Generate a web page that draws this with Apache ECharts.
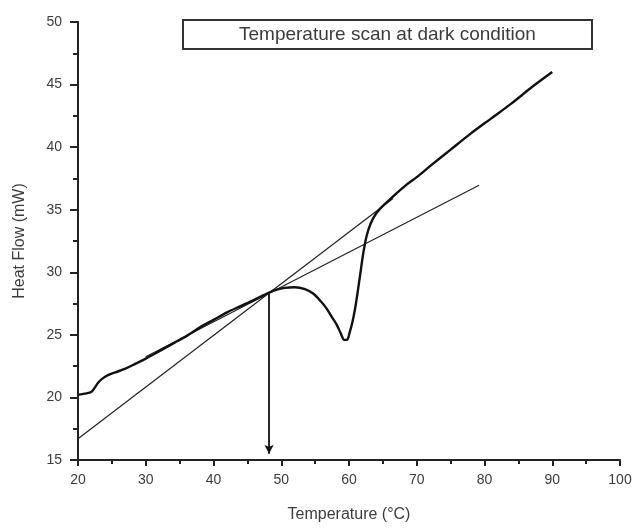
<!DOCTYPE html>
<html>
<head>
<meta charset="utf-8">
<script src="https://cdn.jsdelivr.net/npm/echarts@6/dist/echarts.min.js"></script>
<style>
  html, body { margin: 0; padding: 0; background: #fff; }
  #chart { width: 635px; height: 528px; }
</style>
</head>
<body>
<div id="chart"></div>
<script>
// DSC scan
var scanTemp = [20, 21, 22, 22.5, 23, 23.6, 24.5, 25.5, 27, 28.5, 30, 32, 34, 36, 38, 40, 42, 44, 46, 47.5,
  49, 50.5, 52, 53.5, 54.7, 55.8, 56.7, 57.5, 58.2, 58.8, 59.3, 59.7, 60.1, 60.5, 60.9, 61.3, 61.7,
  62.1, 62.6, 63.2, 64, 65, 66, 67, 68.5, 70, 72, 75, 78, 81, 84, 87, 90];
var scanHeat = [20.2, 20.3, 20.45, 20.8, 21.2, 21.5, 21.8, 22.0, 22.3, 22.7, 23.1, 23.7, 24.3, 24.9, 25.6, 26.2, 26.8, 27.3, 27.8, 28.2,
  28.55, 28.75, 28.8, 28.65, 28.3, 27.7, 27.1, 26.4, 25.8, 25.1, 24.6, 24.6, 25.2, 26.0, 27.1, 28.5, 30.0,
  31.5, 32.9, 33.9, 34.7, 35.3, 35.8, 36.3, 37.0, 37.6, 38.5, 39.8, 41.1, 42.3, 43.5, 44.8, 46.0];

// tangent lines (start / end points)
var steepTemp = [20, 66.5];
var steepHeat = [16.7, 35.9];
var shallowTemp = [30, 79.2];
var shallowHeat = [23.25, 36.95];

// onset arrow
var onsetTemp = 48.2;
var onsetHeat = [28.3, 15.5];

var xTicks = { min: 20, max: 100, step: 10 };
var yTicks = { min: 15, max: 50, step: 5 };

function pairs(xs, ys) {
  return xs.map(function (x, i) { return [x, ys[i]]; });
}

var chartDom = document.getElementById('chart');
var myChart = echarts.init(chartDom);
var option;
var textColor = '#3c3c3c';

option = {
  animation: false,
  backgroundColor: '#fff',
  title: {
    text: 'Temperature scan at dark condition',
    left: 183,
    top: 20,
    padding: [5, 56],
    borderWidth: 2,
    borderColor: '#333',
    textStyle: {
      fontFamily: 'Liberation Sans',
      fontWeight: 'normal',
      fontSize: 19,
      color: textColor
    }
  },
  grid: { left: 78, right: 15, top: 22, bottom: 67 },
  xAxis: {
    type: 'value',
    min: xTicks.min,
    max: xTicks.max,
    interval: xTicks.step,
    name: 'Temperature (°C)',
    nameLocation: 'middle',
    nameGap: 47,
    nameTextStyle: { fontFamily: 'Liberation Sans', fontSize: 16, color: textColor },
    axisLine: { lineStyle: { color: '#222', width: 2 } },
    axisTick: { length: 6, lineStyle: { color: '#222', width: 2 } },
    minorTick: { show: true, splitNumber: 2, length: 4, lineStyle: { color: '#222', width: 2 } },
    axisLabel: { margin: 13, fontFamily: 'Liberation Sans', fontSize: 14, color: textColor },
    splitLine: { show: false }
  },
  yAxis: {
    type: 'value',
    min: yTicks.min,
    max: yTicks.max,
    interval: yTicks.step,
    name: 'Heat Flow (mW)',
    nameLocation: 'middle',
    nameGap: 50,
    nameTextStyle: { fontFamily: 'Liberation Sans', fontSize: 16, color: textColor },
    axisLine: { show: true, lineStyle: { color: '#222', width: 2 } },
    axisTick: { show: true, length: 8, lineStyle: { color: '#222', width: 2 } },
    minorTick: { show: true, splitNumber: 2, length: 5, lineStyle: { color: '#222', width: 2 } },
    axisLabel: { margin: 16, fontFamily: 'Liberation Sans', fontSize: 14, color: textColor },
    splitLine: { show: false }
  },
  series: [
    {
      name: 'steep tangent',
      type: 'line',
      data: pairs(steepTemp, steepHeat),
      showSymbol: false,
      lineStyle: { color: '#222', width: 1.2 }
    },
    {
      name: 'shallow tangent',
      type: 'line',
      data: pairs(shallowTemp, shallowHeat),
      showSymbol: false,
      lineStyle: { color: '#222', width: 1.2 }
    },
    {
      name: 'Temperature scan at dark condition',
      type: 'line',
      data: pairs(scanTemp, scanHeat),
      showSymbol: false,
      smooth: 0.3,
      lineStyle: { color: '#111', width: 2.4 },
      markLine: {
        silent: true,
        symbol: ['none', 'arrow'],
        symbolSize: [7, 9],
        label: { show: false },
        lineStyle: { color: '#111', width: 1.8, type: 'solid' },
        data: [[
          { coord: [onsetTemp, onsetHeat[0]] },
          { coord: [onsetTemp, onsetHeat[1]] }
        ]]
      }
    }
  ]
};

option && myChart.setOption(option);
</script>
</body>
</html>
